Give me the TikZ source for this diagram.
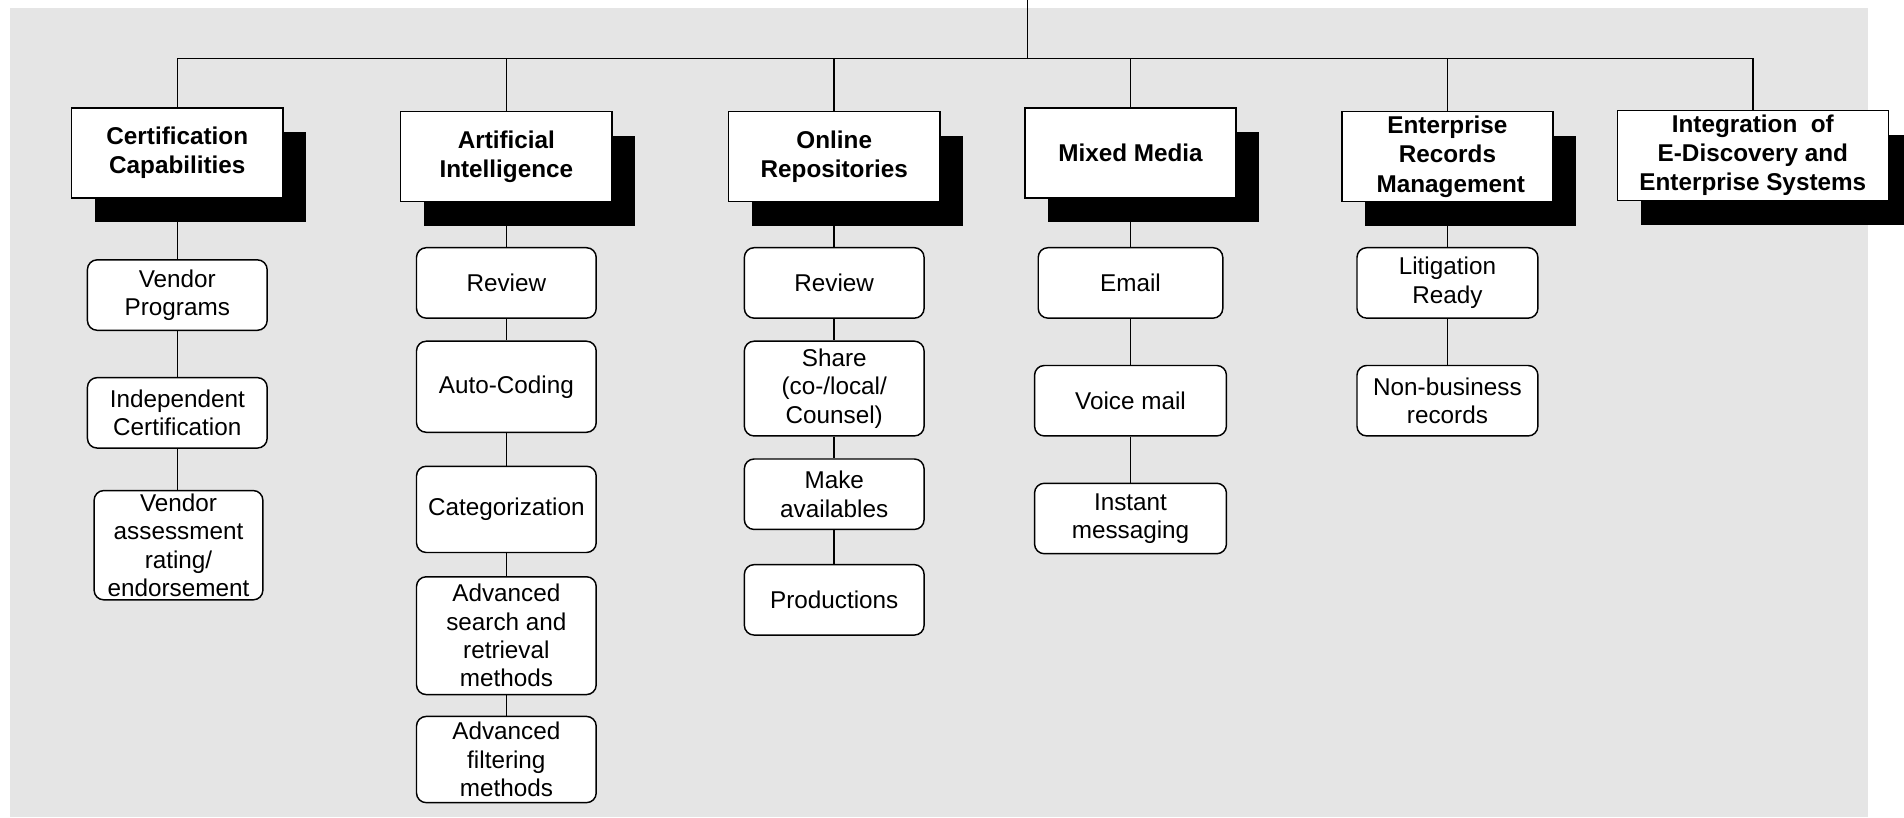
\documentclass[tikz,border=0pt]{standalone}
\usepackage[dvipsnames]{xcolor}
\usepackage{fontspec}
\setmainfont{Liberation Sans}
\usetikzlibrary{shadows}
\definecolor{bggray}{RGB}{229,229,229}

\begin{document}
\begin{tikzpicture}[x=0.5pt,y=-0.5pt,line width=0.6pt,head node/.style={draw,fill=white,rectangle,inner sep=0pt,align=center,minimum width=87pt,minimum height=37pt,font=\fontsize{10}{12}\selectfont\bfseries,general shadow={fill=black,shadow xshift=9.5pt,shadow yshift=-10pt}},sub node/.style={draw,fill=white,rounded corners=4pt,inner sep=0pt,align=center,minimum width=74pt,minimum height=29pt,font=\fontsize{10}{11.7}\selectfont}]
                        \useasboundingbox (0,0) rectangle (1568,673);
                        \fill[bggray] (8,7) rectangle (1538,673);

                        \coordinate (top) at (846,0);
                        \coordinate (hub) at (846,48);

                        \node[head node] (cert) at (146,126) {Certification\\Capabilities};
                        \node[head node] (ai) at (417,129) {Artificial\\Intelligence};
                        \node[head node] (repo) at (687,129) {Online\\Repositories};
                        \node[head node] (media) at (931,126) {Mixed Media};
                        \node[head node] (erm) at (1192,129) {Enterprise\\Records\\\ Management};
                        \node[head node,minimum width=111.5pt] (integ) at (1443.5,128) {Integration\ \ of\\E-Discovery and\\Enterprise Systems};

                        \node[sub node] (vprog) at (146,243) {Vendor\\Programs};
                        \node[sub node] (indep) at (146,340) {Independent\\Certification};
                        \node[sub node,minimum width=69.5pt,minimum height=45pt] (vassess) at (147,449) {Vendor\\assessment\\rating/\\endorsement};

                        \node[sub node] (review1) at (417,233) {Review};
                        \node[sub node,minimum height=37.5pt] (autocode) at (417,318.5) {Auto-Coding};
                        \node[sub node,minimum height=35.5pt] (categ) at (417,419.5) {Categorization};
                        \node[sub node,minimum height=48.5pt] (advsearch) at (417,523.5) {Advanced\\search and\\retrieval\\methods};
                        \node[sub node,minimum height=35.5pt] (advfilter) at (417,625.5) {Advanced\\filtering\\methods};

                        \node[sub node] (review2) at (687,233) {Review};
                        \node[sub node,minimum height=39pt] (share) at (687,320) {Share\\(co-/local/\\Counsel)};
                        \node[sub node] (makeavail) at (687,407) {Make\\availables};
                        \node[sub node] (prod) at (687,494) {Productions};

                        \node[sub node,minimum width=76pt] (email) at (931,233) {Email};
                        \node[sub node,minimum width=79pt] (voice) at (931,330) {Voice mail};
                        \node[sub node,minimum width=79pt] (instant) at (931,427) {Instant\\messaging};

                        \node[sub node,minimum width=74.5pt] (litig) at (1192,233) {Litigation\\Ready};
                        \node[sub node,minimum width=74.5pt] (nonbus) at (1192,330) {Non-business\\records};

                        % top bus
                        \draw (top) -- (hub);
                        \draw (cert.north) -- (cert.north |- hub) -- (integ.north |- hub) -- (integ.north);
                        \draw (ai.north) -- (ai.north |- hub);
                        \draw (repo.north) -- (repo.north |- hub);
                        \draw (media.north) -- (media.north |- hub);
                        \draw (erm.north) -- (erm.north |- hub);

                        \path
                            (cert) edge (vprog)
                            (vprog) edge (indep)
                            (indep.south) edge (indep.south |- vassess.north)

                            (ai) edge (review1)
                            (review1) edge (autocode)
                            (autocode) edge (categ)
                            (categ) edge (advsearch)
                            (advsearch) edge (advfilter)

                            (repo) edge (review2)
                            (review2) edge (share)
                            (share) edge (makeavail)
                            (makeavail) edge (prod)

                            (media) edge (email)
                            (email) edge (voice)
                            (voice) edge (instant)

                            (erm) edge (litig)
                            (litig) edge (nonbus)
                        ;

                    \end{tikzpicture}
\end{document}
